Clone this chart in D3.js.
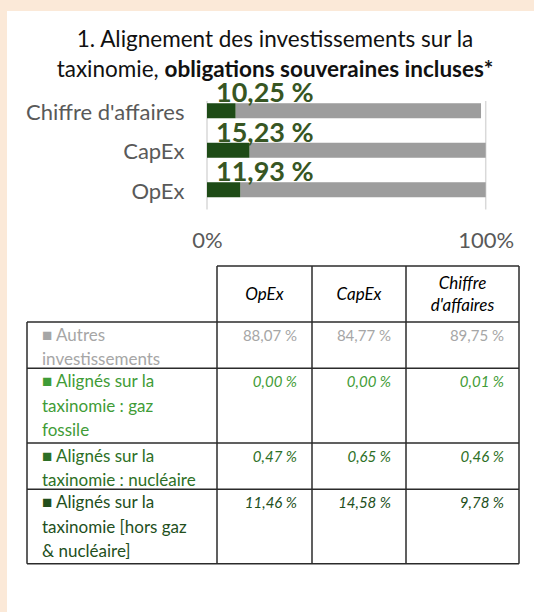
<!DOCTYPE html>
<html>
<head>
<meta charset="utf-8">
<script src="https://cdn.jsdelivr.net/npm/d3@7"></script>
<style>
  html, body { margin: 0; padding: 0; background: #fbe9d8; }
  svg { display: block; font-family: Lato, "Open Sans", sans-serif; }
</style>
</head>
<body>
<svg id="chart" width="534" height="612"></svg>
<script>
// chart (top)
const chartCategories = ["Chiffre d'affaires", "CapEx", "OpEx"];
const alignedShare = [10.25, 15.23, 11.93];
const otherShare = [88.07, 84.77, 88.07];
const axisTicks = [0, 100];

// table (bottom)
const tableColumns = [["OpEx"], ["CapEx"], ["Chiffre", "d'affaires"]];
const rowLabels = [
  ["■ Autres", "investissements"],
  ["■ Alignés sur la", "taxinomie : gaz", "fossile"],
  ["■ Alignés sur la", "taxinomie : nucléaire"],
  ["■ Alignés sur la", "taxinomie [hors gaz", "& nucléaire]"]
];
const opexValues = [88.07, 0.00, 0.47, 11.46];
const capexValues = [84.77, 0.00, 0.65, 14.58];
const revenueValues = [89.75, 0.01, 0.46, 9.78];

const rowStyles = [
  { color: "#a6a6a6", italic: false },
  { color: "#3f9c37", italic: true },
  { color: "#2d6f26", italic: true },
  { color: "#234f1c", italic: true }
];

const frPct = v => d3.format(".2f")(v).replace(".", ",") + " %";

function drawChart() {
  const svg = d3.select("#chart");
  svg.selectAll("*").remove();

  svg.append("rect")
    .attr("x", 7).attr("y", 11)
    .attr("width", 527).attr("height", 601)
    .attr("fill", "#fff");

  // title
  const title = svg.append("g")
    .attr("font-size", "22.5px")
    .attr("fill", "#111")
    .attr("text-anchor", "middle");
  title.append("text")
    .attr("x", 275).attr("y", 47)
    .text("1. Alignement des investissements sur la");
  const t2 = title.append("text").attr("x", 275).attr("y", 77);
  t2.append("tspan").text("taxinomie, ");
  t2.append("tspan").attr("font-weight", "bold").text("obligations souveraines incluses*");

  const x = d3.scaleLinear().domain([0, 100]).range([207, 485.7]);
  const y = d3.scaleBand()
    .domain(chartCategories)
    .range([91, 209.5])
    .paddingInner(0.62)
    .paddingOuter(0.31);

  // vertical gridlines
  svg.append("g")
    .selectAll("line")
    .data(axisTicks)
    .join("line")
    .attr("x1", d => x(d)).attr("x2", d => x(d))
    .attr("y1", 101).attr("y2", 209.5)
    .attr("stroke", "#d9d9d9")
    .attr("stroke-width", 1.5);

  const rows = chartCategories.map((c, i) => ({
    cat: c, aligned: alignedShare[i], other: otherShare[i]
  }));

  svg.append("g").selectAll("rect")
    .data(rows)
    .join("rect")
    .attr("x", d => x(d.aligned))
    .attr("y", d => y(d.cat))
    .attr("width", d => x(d.aligned + d.other) - x(d.aligned))
    .attr("height", y.bandwidth())
    .attr("fill", "#9d9d9d");

  svg.append("g").selectAll("rect")
    .data(rows)
    .join("rect")
    .attr("x", x(0))
    .attr("y", d => y(d.cat))
    .attr("width", d => x(d.aligned) - x(0))
    .attr("height", y.bandwidth())
    .attr("fill", "#1e4b16");

  svg.append("g").selectAll("text")
    .data(rows)
    .join("text")
    .attr("x", x(0) + 9)
    .attr("y", d => y(d.cat) - 1)
    .attr("font-size", "27px")
    .attr("font-weight", "bold")
    .attr("fill", "#375623")
    .text(d => frPct(d.aligned));

  // category axis
  const yAxis = svg.append("g")
    .attr("transform", `translate(${x(0)},0)`)
    .call(d3.axisLeft(y).tickSize(0).tickPadding(22.5));
  yAxis.select(".domain").remove();
  yAxis.selectAll("text")
    .attr("dy", "0.41em")
    .style("font-size", "22px")
    .style("font-family", "Lato, 'Open Sans', sans-serif")
    .attr("fill", "#595959");

  // value axis
  const xAxis = svg.append("g")
    .attr("transform", "translate(0,232)")
    .call(d3.axisBottom(x).tickValues(axisTicks).tickFormat(d => d + "%").tickSize(0).tickPadding(0));
  xAxis.select(".domain").remove();
  xAxis.selectAll("text")
    .style("font-size", "22px")
    .style("font-family", "Lato, 'Open Sans', sans-serif")
    .attr("fill", "#595959");

  drawTable(svg);
}

function drawTable(svg) {
  const colX = [27, 217, 312, 406, 519];
  const headTop = 266, headBottom = 322;
  const lineH = 24.3, padTop = 19;
  const border = "#2b2b2b";

  // row boundaries from the number of text lines
  const rowTops = [];
  let yy = headBottom;
  rowLabels.forEach(lines => {
    rowTops.push(yy);
    yy += padTop + (lines.length - 1) * lineH + 3 + (lines.length - 2) * 4;
  });
  const tableBottom = yy;

  const g = svg.append("g");

  // header
  const head = g.append("g")
    .attr("font-size", "17px")
    .attr("font-style", "italic")
    .attr("fill", "#000")
    .attr("text-anchor", "middle");
  tableColumns.forEach((lines, j) => {
    const cx = (colX[j + 1] + colX[j + 2]) / 2;
    const mid = (headTop + headBottom) / 2;
    const first = mid + 6 - (lines.length - 1) * 11;
    lines.forEach((s, k) => {
      head.append("text")
        .attr("x", cx)
        .attr("y", first + k * 22)
        .text(s);
    });
  });

  // body text
  const values = [opexValues, capexValues, revenueValues];
  rowLabels.forEach((lines, i) => {
    const st = rowStyles[i];
    const base = rowTops[i] + padTop;
    const rg = g.append("g").attr("fill", st.color);
    rg.selectAll("text.lbl")
      .data(lines)
      .join("text")
      .attr("class", "lbl")
      .attr("x", colX[0] + 15)
      .attr("y", (d, k) => base + k * lineH)
      .attr("font-size", "17px")
      .text(d => d);
    rg.selectAll("text.val")
      .data(values.map(v => v[i]))
      .join("text")
      .attr("class", "val")
      .attr("x", (d, j) => colX[j + 2] - 15)
      .attr("y", base)
      .attr("text-anchor", "end")
      .attr("font-size", "15px")
      .attr("font-style", st.italic ? "italic" : "normal")
      .text(d => frPct(d));
  });

  // borders
  const lines = g.append("g")
    .attr("stroke", border)
    .attr("stroke-width", 1.5)
    .attr("fill", "none");
  lines.append("line")
    .attr("x1", colX[1]).attr("x2", colX[4])
    .attr("y1", headTop).attr("y2", headTop);
  [headBottom, ...rowTops.slice(1), tableBottom].forEach(v => {
    lines.append("line")
      .attr("x1", colX[0]).attr("x2", colX[4])
      .attr("y1", v).attr("y2", v);
  });
  lines.append("line")
    .attr("x1", colX[0]).attr("x2", colX[0])
    .attr("y1", headBottom).attr("y2", tableBottom);
  colX.slice(1).forEach(v => {
    lines.append("line")
      .attr("x1", v).attr("x2", v)
      .attr("y1", headTop).attr("y2", tableBottom);
  });
}

drawChart();
</script>
</body>
</html>
